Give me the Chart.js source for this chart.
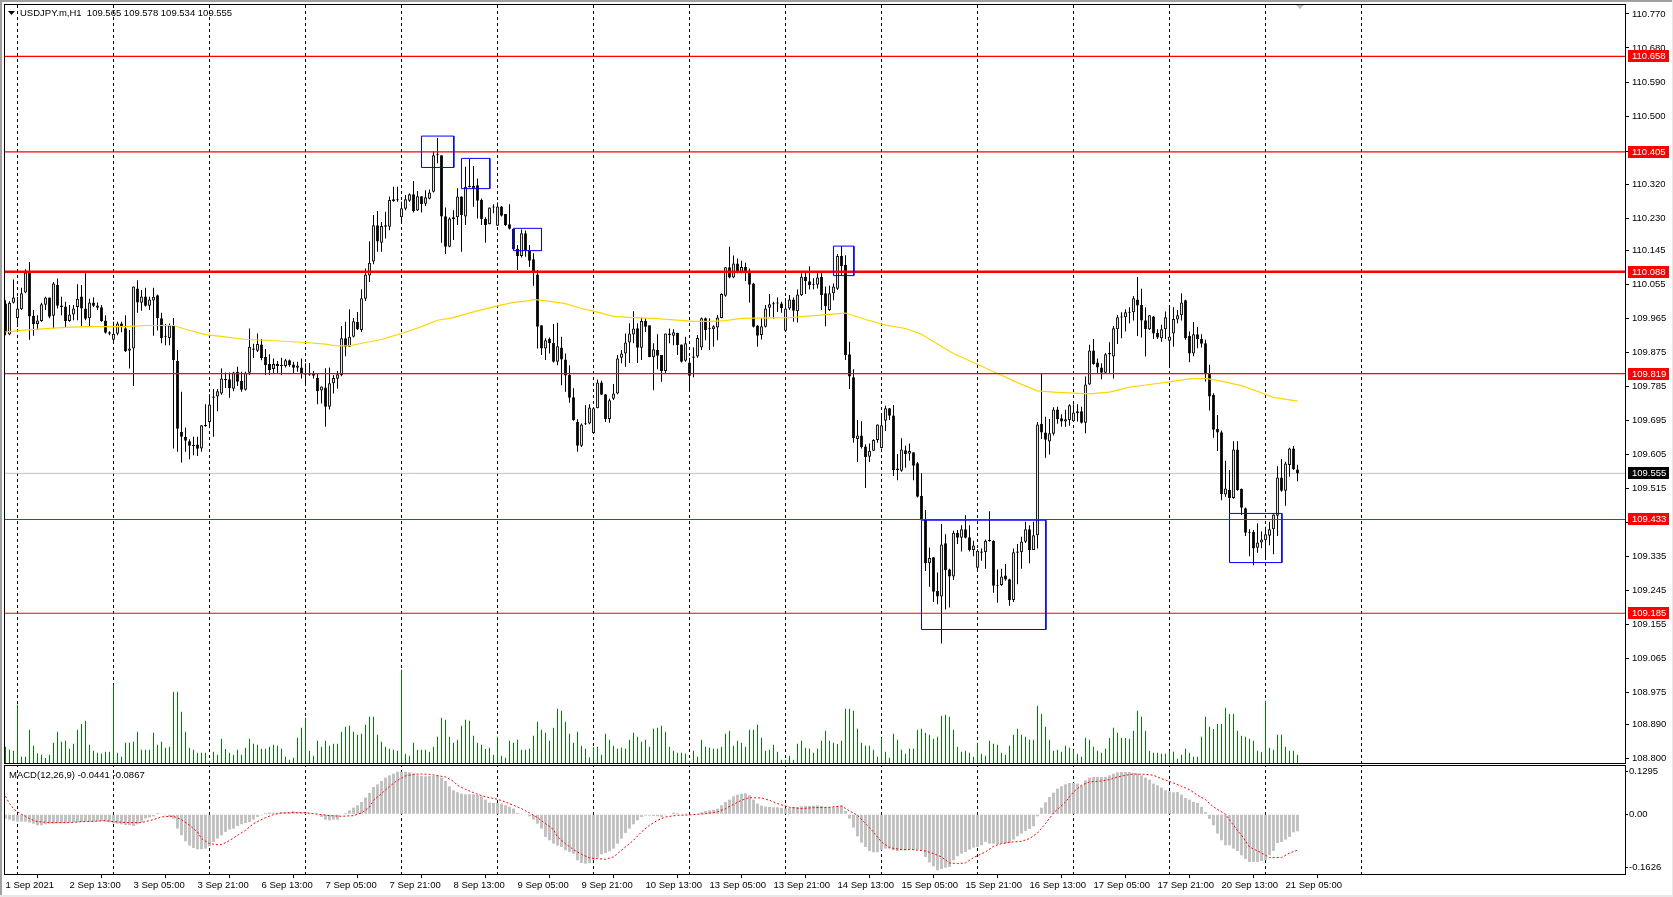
<!DOCTYPE html>
<html>
<head>
<meta charset="utf-8">
<title>USDJPY.m,H1</title>
<script src="https://cdn.jsdelivr.net/npm/chart.js@4"></script>
<style>
    html, body { margin: 0; padding: 0; background: #fff; overflow: hidden; }
    #page { position: relative; width: 1673px; height: 897px; }
    #page canvas { position: absolute; left: 0; }
    #mainChart { top: 0; }
    #macdChart { top: 765px; }
    #edgeTop { position: absolute; left: 0; top: 0; width: 1673px; height: 2px; background: #a0a0a0; }
    #edgeLeft { position: absolute; left: 0; top: 0; width: 2px; height: 897px; background: #a0a0a0; }
    #edgeRight { position: absolute; right: 0; top: 0; width: 1px; height: 897px; background: #e8e8e8; }
    #edgeBottom { position: absolute; left: 0; bottom: 0; width: 1673px; height: 2px; background: #e8e8e8; }
</style>
</head>
<body>
<div id="page">
    <canvas id="mainChart" width="1673" height="765"></canvas>
    <canvas id="macdChart" width="1673" height="132"></canvas>
    <div id="edgeTop"></div><div id="edgeLeft"></div><div id="edgeRight"></div><div id="edgeBottom"></div>
</div>
<script>
const opens = [
110.004,109.922,110.006,109.966,109.989,110.033,110.088,109.972,109.950,109.958,
110.001,110.020,109.972,110.054,109.999,109.996,109.958,109.975,109.995,110.023,
109.991,109.965,110.007,109.999,109.994,109.959,109.928,109.908,109.924,109.951,
109.939,109.879,109.885,110.044,110.006,110.023,109.998,110.012,110.026,109.965,
109.919,109.913,109.946,109.852,109.665,109.652,109.640,109.629,109.631,109.621,
109.680,109.691,109.758,109.758,109.766,109.804,109.804,109.779,109.824,109.799,
109.776,109.821,109.885,109.879,109.896,109.863,109.844,109.831,109.844,109.841,
109.839,109.854,109.843,109.834,109.835,109.817,109.816,109.821,109.807,109.774,
109.782,109.731,109.793,109.805,109.815,109.912,109.890,109.916,109.955,109.934,
110.017,110.078,110.115,110.211,110.165,110.211,110.207,110.280,110.280,110.232,
110.255,110.276,110.293,110.250,110.288,110.268,110.281,110.300,110.399,110.396,
110.235,110.154,110.232,110.232,110.287,110.234,110.315,110.309,110.317,110.278,
110.228,110.214,110.260,110.210,110.261,110.241,110.214,110.202,110.149,110.130,
110.190,110.144,110.121,110.081,109.947,109.885,109.910,109.900,109.850,109.888,
109.856,109.815,109.756,109.691,109.628,109.685,109.687,109.662,109.727,109.795,
109.764,109.699,109.752,109.766,109.861,109.872,109.901,109.922,109.939,109.887,
109.958,109.947,109.862,109.881,109.868,109.826,109.925,109.919,109.926,109.896,
109.853,109.848,109.864,109.864,109.888,109.965,109.938,109.936,109.941,109.966,
110.025,110.100,110.073,110.110,110.085,110.101,110.091,110.057,109.946,109.921,
109.943,109.993,110.004,110.006,110.004,109.932,109.991,110.015,109.984,110.026,
110.075,110.063,110.056,110.054,110.075,110.031,109.987,110.031,110.043,110.130,
110.106,109.870,109.809,109.646,109.655,109.626,109.599,109.615,109.643,109.622,
109.694,109.727,109.708,109.568,109.562,109.616,109.607,109.611,109.582,109.496,
109.435,109.317,109.333,109.244,109.229,109.370,109.301,109.282,109.398,109.385,
109.407,109.386,109.352,109.305,109.345,109.346,109.376,109.377,109.258,109.260,
109.285,109.275,109.220,109.348,109.346,109.374,109.407,109.352,109.391,109.686,
109.663,109.639,109.660,109.724,109.701,109.692,109.696,109.693,109.714,109.719,
109.689,109.790,109.880,109.848,109.835,109.821,109.873,109.864,109.936,109.967,
109.968,109.980,109.981,110.015,110.000,109.960,109.936,109.970,109.926,109.912,
109.936,109.906,109.925,109.962,109.973,110.013,109.918,109.872,109.923,109.910,
109.899,109.820,109.762,109.672,109.664,109.499,109.511,109.490,109.618,109.514,
109.463,109.398,109.400,109.358,109.372,109.378,109.390,109.407,109.443,109.544,
109.509,109.577,109.621,109.565];

const highs = [
110.013,110.010,110.068,110.022,110.046,110.095,110.114,109.987,109.973,110.006,
110.022,110.020,110.061,110.070,110.022,110.009,110.000,110.000,110.055,110.053,
110.084,110.017,110.020,110.007,110.000,109.973,109.931,109.956,109.956,109.956,
109.973,109.934,110.049,110.066,110.040,110.046,110.022,110.046,110.028,109.980,
109.950,109.951,109.966,109.881,109.771,109.676,109.645,109.652,109.652,109.682,
109.738,109.764,109.778,109.778,109.832,109.822,109.822,109.824,109.837,109.824,
109.824,109.938,109.898,109.925,109.910,109.884,109.870,109.859,109.852,109.861,
109.858,109.856,109.850,109.850,109.859,109.846,109.847,109.826,109.819,109.785,
109.833,109.835,109.815,109.826,109.945,109.956,109.989,109.966,109.982,110.042,
110.097,110.169,110.238,110.249,110.220,110.247,110.287,110.313,110.313,110.273,
110.291,110.295,110.328,110.302,110.288,110.304,110.306,110.406,110.442,110.396,
110.258,110.232,110.251,110.309,110.288,110.366,110.388,110.368,110.335,110.282,
110.232,110.258,110.267,110.271,110.262,110.241,110.267,110.202,110.159,110.200,
110.197,110.159,110.137,110.093,109.947,109.912,109.914,109.950,109.953,109.916,
109.872,109.841,109.780,109.698,109.687,109.736,109.738,109.727,109.803,109.800,
109.764,109.753,109.791,109.868,109.881,109.925,109.952,109.984,109.952,109.967,
109.965,109.947,109.899,109.923,109.868,109.925,109.938,109.936,109.927,109.896,
109.916,109.861,109.888,109.921,109.967,109.967,109.965,109.947,109.974,110.031,
110.101,110.154,110.131,110.123,110.117,110.112,110.097,110.059,109.947,109.965,
110.000,110.029,110.009,110.020,110.009,110.018,110.027,110.020,110.041,110.084,
110.086,110.103,110.071,110.084,110.088,110.049,110.051,110.057,110.135,110.156,
110.132,109.903,109.830,109.696,109.693,109.632,109.634,109.645,109.684,109.709,
109.734,109.728,109.736,109.606,109.648,109.628,109.634,109.611,109.585,109.555,
109.458,109.359,109.333,109.293,109.421,109.394,109.303,109.403,109.405,109.418,
109.444,109.418,109.377,109.354,109.356,109.380,109.455,109.378,109.301,109.303,
109.315,109.276,109.356,109.368,109.387,109.427,109.418,109.427,109.691,109.820,
109.705,109.699,109.730,109.731,109.711,109.723,109.738,109.738,109.738,109.731,
109.811,109.895,109.910,109.859,109.846,109.873,109.902,109.945,109.974,109.981,
109.989,109.994,110.024,110.074,110.043,109.994,109.973,109.971,109.936,109.948,
109.983,110.000,109.994,109.987,110.031,110.014,109.930,109.955,109.943,109.923,
109.908,109.842,109.767,109.709,109.668,109.588,109.564,109.640,109.640,109.515,
109.465,109.407,109.405,109.423,109.401,109.414,109.427,109.447,109.574,109.593,
109.586,109.623,109.627,109.578];

const lows = [
109.920,109.920,110.004,109.942,109.987,110.031,109.908,109.919,109.934,109.956,
109.987,109.965,109.938,109.991,109.973,109.941,109.956,109.960,109.960,109.945,
109.960,109.942,109.995,109.987,109.956,109.925,109.920,109.901,109.920,109.928,
109.876,109.832,109.786,109.980,109.985,109.996,109.987,109.919,109.933,109.899,
109.894,109.894,109.621,109.612,109.584,109.612,109.592,109.603,109.601,109.612,
109.678,109.674,109.652,109.719,109.763,109.781,109.755,109.772,109.786,109.771,
109.774,109.815,109.860,109.876,109.854,109.815,109.815,109.819,109.819,109.815,
109.835,109.837,109.819,109.824,109.806,109.793,109.813,109.806,109.738,109.740,
109.678,109.724,109.766,109.779,109.812,109.865,109.890,109.914,109.934,109.929,
110.011,110.061,110.108,110.141,110.141,110.176,110.198,110.273,110.273,110.218,
110.251,110.273,110.245,110.249,110.245,110.262,110.280,110.298,110.375,110.165,
110.135,110.153,110.172,110.212,110.141,110.212,110.311,110.260,110.229,110.212,
110.165,110.214,110.243,110.210,110.234,110.209,110.200,110.145,110.093,110.126,
110.128,110.101,110.051,109.885,109.868,109.855,109.872,109.848,109.841,109.788,
109.771,109.742,109.694,109.612,109.625,109.683,109.685,109.662,109.727,109.762,
109.691,109.689,109.749,109.764,109.846,109.837,109.847,109.899,109.847,109.855,
109.929,109.862,109.775,109.830,109.797,109.819,109.899,109.894,109.868,109.848,
109.850,109.772,109.809,109.861,109.881,109.907,109.881,109.890,109.907,109.965,
110.022,110.071,110.071,110.084,110.084,110.064,110.007,109.941,109.890,109.909,
109.941,109.969,109.964,109.982,109.980,109.932,109.987,109.956,109.954,110.024,
110.029,110.041,110.042,110.044,109.987,109.944,109.985,110.013,110.040,110.079,
109.855,109.778,109.636,109.585,109.621,109.516,109.585,109.615,109.636,109.621,
109.667,109.696,109.548,109.537,109.559,109.570,109.588,109.537,109.491,109.431,
109.297,109.255,109.215,109.209,109.105,109.195,109.200,109.273,109.368,109.348,
109.383,109.348,109.336,109.299,109.324,109.303,109.374,109.239,109.213,109.258,
109.271,109.205,109.215,109.262,109.303,109.371,109.317,109.352,109.356,109.646,
109.596,109.605,109.655,109.686,109.678,109.678,109.681,109.691,109.692,109.687,
109.661,109.789,109.842,109.820,109.804,109.820,109.820,109.806,109.897,109.912,
109.930,109.952,109.959,109.918,109.914,109.864,109.934,109.910,109.910,109.903,
109.910,109.837,109.890,109.952,109.959,109.908,109.849,109.865,109.886,109.888,
109.798,109.721,109.649,109.614,109.484,109.493,109.449,109.488,109.509,109.445,
109.389,109.336,109.312,109.345,109.357,109.330,109.365,109.341,109.389,109.506,
109.469,109.546,109.564,109.534];

const closes = [
109.929,110.006,110.020,109.991,110.031,110.086,109.970,109.950,109.959,110.002,
110.020,109.969,110.057,109.998,109.995,109.957,109.975,109.991,110.017,109.991,
109.964,110.007,109.998,109.993,109.957,109.927,109.924,109.924,109.951,109.942,
109.878,109.885,110.049,110.007,110.023,109.998,110.015,110.022,109.965,109.913,
109.916,109.946,109.855,109.673,109.652,109.641,109.628,109.627,109.620,109.682,
109.682,109.737,109.755,109.772,109.806,109.802,109.781,109.822,109.797,109.776,
109.821,109.890,109.882,109.897,109.860,109.841,109.828,109.844,109.839,109.839,
109.854,109.841,109.834,109.840,109.819,109.816,109.821,109.813,109.772,109.785,
109.731,109.793,109.807,109.817,109.912,109.890,109.916,109.957,109.936,110.018,
110.081,110.112,110.211,110.168,110.209,110.207,110.278,110.275,110.277,110.256,
110.280,110.293,110.249,110.288,110.267,110.285,110.298,110.396,110.396,110.234,
110.154,110.229,110.228,110.287,110.238,110.313,110.312,110.315,110.276,110.227,
110.212,110.258,110.258,110.261,110.236,110.212,110.202,110.147,110.130,110.190,
110.144,110.117,110.084,109.943,109.885,109.907,109.899,109.850,109.891,109.856,
109.814,109.755,109.696,109.628,109.684,109.687,109.729,109.727,109.795,109.763,
109.699,109.748,109.766,109.859,109.872,109.901,109.925,109.938,109.887,109.958,
109.943,109.863,109.883,109.866,109.826,109.925,109.921,109.928,109.894,109.850,
109.899,109.813,109.861,109.913,109.965,109.934,109.936,109.944,109.967,110.029,
110.100,110.073,110.110,110.086,110.101,110.088,110.054,109.943,109.919,109.944,
109.991,110.002,110.002,110.004,109.992,109.991,110.015,109.985,110.028,110.075,
110.064,110.053,110.054,110.073,110.027,109.997,110.031,110.049,110.130,110.103,
109.868,109.811,109.648,109.655,109.625,109.598,109.615,109.643,109.684,109.682,
109.727,109.707,109.564,109.564,109.618,109.606,109.614,109.575,109.493,109.431,
109.317,109.332,109.242,109.229,109.367,109.299,109.282,109.398,109.385,109.407,
109.385,109.352,109.364,109.350,109.348,109.377,109.377,109.258,109.260,109.282,
109.274,109.220,109.346,109.345,109.375,109.407,109.352,109.391,109.684,109.663,
109.644,109.661,109.724,109.698,109.692,109.698,109.735,109.716,109.719,109.689,
109.790,109.880,109.844,109.835,109.821,109.870,109.869,109.939,109.968,109.969,
109.981,109.982,110.018,109.999,109.959,109.937,109.973,109.925,109.914,109.936,
109.968,109.917,109.963,109.973,110.007,109.913,109.872,109.923,109.910,109.898,
109.820,109.758,109.670,109.663,109.500,109.515,109.490,109.618,109.511,109.464,
109.398,109.400,109.356,109.372,109.380,109.394,109.407,109.446,109.544,109.509,
109.581,109.621,109.566,109.555];

const volumes = [
173,143,133,593,73,73,343,183,107,93,
60,93,213,323,223,233,153,203,343,400,
433,193,133,113,103,123,123,793,113,73,
213,213,223,323,143,143,143,313,193,223,
163,173,723,723,523,323,163,143,113,113,
113,33,123,93,253,150,113,93,143,93,
163,253,203,193,153,153,173,193,183,153,
73,43,63,263,363,463,133,83,233,173,
233,183,203,203,323,373,383,323,293,303,
393,473,473,293,223,173,153,143,133,943,
103,83,213,143,143,143,123,173,273,463,
443,273,213,243,383,443,433,283,213,193,
150,163,93,273,83,63,233,213,243,143,
143,153,283,423,343,313,233,363,553,533,
423,303,213,323,183,153,67,167,173,93,
303,243,183,153,163,153,243,313,273,223,
243,173,353,363,383,323,173,133,113,113,
103,33,133,73,243,173,163,153,153,173,
303,333,183,233,213,173,343,343,393,263,
133,143,193,123,43,43,83,43,203,233,
163,153,113,153,233,333,233,213,200,233,
553,553,533,353,213,183,183,143,73,263,
123,63,303,243,143,103,153,153,343,353,
313,293,253,273,483,493,473,343,173,123,
133,113,73,213,103,83,233,203,193,113,
93,183,293,353,293,273,243,243,583,500,
373,243,133,143,123,183,163,143,103,73,
263,243,173,133,113,153,260,363,313,263,
260,253,333,533,473,333,133,113,113,103,
103,133,123,53,93,153,113,73,73,273,
473,373,350,400,400,563,500,500,333,283,
273,253,233,133,117,633,163,143,293,293,
173,133,133,93];

const macdHist = [
-.0132,-.0163,-.0203,-.0224,-.0224,-.0224,-.0254,-.0285,-.0335,-.0335,
-.0305,-.0285,-.0285,-.0274,-.0274,-.0274,-.0254,-.0244,-.0244,-.0234,
-.0224,-.0224,-.0224,-.0213,-.0213,-.0224,-.0244,-.0274,-.0285,-.0305,
-.0325,-.0335,-.0356,-.0305,-.0234,-.0132,-.0102,-.0061,.0041,.0020,
-.0030,-.0081,-.0132,-.0437,-.0640,-.0823,-.0955,-.1026,-.1067,-.1067,
-.1046,-.0975,-.0843,-.0742,-.0640,-.0538,-.0467,-.0437,-.0356,-.0305,
-.0264,-.0234,-.0163,-.0081,-.0030,.0041,.0051,.0051,.0051,.0061,
.0061,.0071,.0091,.0071,.0061,.0041,.0030,0,-.0030,-.0081,
-.0163,-.0183,-.0163,-.0163,-.0020,.0041,.0122,.0203,.0274,.0376,
.0508,.0650,.0833,.0914,.1016,.1118,.1189,.1240,.1300,.1300,
.1300,.1280,.1240,.1189,.1168,.1158,.1168,.1168,.1189,.1118,
.1016,.0853,.0732,.0671,.0630,.0610,.0610,.0610,.0589,.0549,
.0447,.0356,.0345,.0345,.0325,.0274,.0224,.0173,.0041,.0005,
-.0020,-.0061,-.0163,-.0285,-.0437,-.0691,-.0792,-.0894,-.0955,-.0996,
-.1097,-.1148,-.1199,-.1402,-.1483,-.1504,-.1483,-.1402,-.1321,-.1219,
-.1179,-.1128,-.1046,-.0894,-.0742,-.0569,-.0437,-.0305,-.0183,-.0081,
-.0041,-.0041,-.0051,-.0061,-.0081,-.0030,.0020,.0051,.0041,.0010,
.0030,-.0005,-.0020,.0020,.0061,.0102,.0122,.0142,.0173,.0274,
.0376,.0447,.0549,.0599,.0630,.0640,.0579,.0447,.0325,.0264,
.0234,.0224,.0213,.0213,.0193,.0173,.0193,.0224,.0224,.0244,
.0254,.0254,.0264,.0274,.0254,.0224,.0224,.0213,.0244,.0264,
.0102,-.0132,-.0406,-.0671,-.0864,-.0996,-.1118,-.1158,-.1158,-.1097,
-.1046,-.1046,-.1097,-.1118,-.1097,-.1097,-.1077,-.1077,-.1077,-.1097,
-.1300,-.1463,-.1585,-.1707,-.1666,-.1626,-.1605,-.1402,-.1280,-.1199,
-.1148,-.1077,-.1016,-.0996,-.0945,-.0843,-.0894,-.0894,-.0914,-.0894,
-.0894,-.0874,-.0772,-.0671,-.0589,-.0508,-.0447,-.0366,-.0061,.0203,
.0366,.0528,.0660,.0782,.0853,.0914,.0955,.0955,.0935,.0884,
.1036,.1118,.1138,.1138,.1138,.1138,.1189,.1240,.1280,.1290,
.1290,.1290,.1260,.1240,.1189,.1118,.1057,.0935,.0884,.0813,
.0732,.0701,.0671,.0681,.0599,.0498,.0447,.0376,.0345,.0224,
.0071,-.0142,-.0335,-.0589,-.0792,-.0945,-.0945,-.1046,-.1118,-.1250,
-.1361,-.1453,-.1453,-.1453,-.1422,-.1402,-.1250,-.1118,-.0874,-.0843,
-.0772,-.0691,-.0549,-.0518];

// signal line, read at these bars
const signalBars = [0,1,2,3,4,5,6,7,8,9,11,16,19,22,25,27,30,34,37,39,41,42,44,46,48,49,51,53,54,56,58,60,62,65,67,69,72,75,77,79,81,84,87,89,91,92,94,96,98,100,102,104,106,108,110,112,113,115,117,119,121,123,125,127,129,131,133,135,137,138,140,142,144,146,148,
150,152,154,157,159,161,163,165,168,171,175,178,180,182,184,186,189,191,193,196,199,202,206,209,211,213,215,217,219,221,224,227,230,232,234,236,238,240,242,245,247,249,251,254,256,258,260,262,265,267,269,271,274,276,278,280,282,285,287,289,292,294,296,298,300,302,305,307,309,311,314,316,319,321,323];
const signalValues = [.0549,.0325,.0173,.0071,0,-.0061,-.0132,-.0183,-.0224,-.0234,-.0254,-.0254,-.0224,-.0213,-.0193,-.0224,-.0254,-.0254,-.0163,-.0081,-.0061,-.0061,-.0163,-.0335,-.0538,-.0742,-.0894,-.0925,-.0925,-.0803,-.0640,-.0488,-.0285,-.0102,-.0010,.0041,.0051,.0051,.0020,-.0010,-.0041,-.0061,-.0041,.0041,.0224,.0427,.0630,.0853,.1036,.1168,.1219,.1229,.1219,.1179,.1138,.1006,.0884,.0762,.0660,.0569,.0508,.0457,.0376,.0274,.0173,.0041,-.0102,-.0285,-.0467,-.0691,-.0894,-.1077,-.1219,-.1331,-.1351,
-.1372,-.1300,-.1097,-.0792,-.0538,-.0335,-.0183,-.0081,-.0030,-.0020,.0020,.0071,.0173,.0305,.0427,.0508,.0498,.0427,.0325,.0213,.0173,.0203,.0213,.0254,.0102,-.0030,-.0285,-.0538,-.0843,-.1016,-.1077,-.1077,-.1118,-.1199,-.1300,-.1483,-.1504,-.1483,-.1321,-.1148,-.0975,-.0894,-.0853,-.0823,-.0742,-.0569,-.0285,.0041,.0376,.0681,.0884,.0986,.1016,.1057,.1138,.1189,.1229,.1219,.1189,.1087,.0955,.0853,.0752,.0579,.0447,.0224,0,-.0335,-.0640,-.0996,-.1179,-.1321,-.1321,-.1179,-.1097];

// yellow moving average, read at these bars
const maBars = [0,5,10,15,20,30,35,42,45,50,55,60,65,75,80,82,86,90,94,99,104,108,112,117,123,127,131,132,135,140,144,147,152,157,162,168,172,176,180,184,191,196,209,210,215,220,225,229,233,237,242,248,253,258,263,267,271,276,281,286,291,296,300,304,309,314,317,323];
const maValues = [109.929,109.934,109.938,109.941,109.943,109.943,109.946,109.946,109.936,109.922,109.916,109.909,109.907,109.901,109.897,109.893,109.892,109.901,109.909,109.925,109.943,109.960,109.967,109.982,109.998,110.007,110.012,110.015,110.011,110.004,109.991,109.984,109.970,109.967,109.965,109.960,109.957,109.957,109.959,109.965,109.966,109.967,109.978,109.979,109.962,109.947,109.938,109.923,109.897,109.872,109.848,109.819,109.795,109.773,109.769,109.767,109.765,109.770,109.783,109.790,109.797,109.805,109.806,109.799,109.787,109.768,109.756,109.746];

const redLevels = [110.658, 110.405, 110.088, 109.819, 109.433, 109.185];
const lastPrice = 109.555;

// blue rectangles: first bar, last bar, top price, bottom price
const boxFrom = [104, 114, 127, 207, 229, 306];
const boxTo = [112.08, 121.08, 134, 212.1, 260.1, 319.1];
const boxTop = [110.447, 110.388, 110.203, 110.156, 109.431, 109.449];
const boxBottom = [110.364, 110.308, 110.144, 110.078, 109.142, 109.319];

const separatorBars = [3,27,51,75,99,123,147,171,195,219,243,267,291,315,339];

const priceTicks = [110.770,110.680,110.590,110.500,110.405,110.320,110.230,110.145,110.055,109.965,109.875,109.785,109.695,109.605,109.515,109.425,109.335,109.245,109.155,109.065,108.975,108.890,108.800];
const macdTicks = [0.1295, 0, -0.1626];
const timeBars = [0,16,32,48,64,80,96,112,128,144,160,176,192,208,224,240,256,272,288,304,320];
const timeLabels = ['1 Sep 2021','2 Sep 13:00','3 Sep 05:00','3 Sep 21:00','6 Sep 13:00','7 Sep 05:00','7 Sep 21:00','8 Sep 13:00','9 Sep 05:00','9 Sep 21:00','10 Sep 13:00','13 Sep 05:00','13 Sep 21:00','14 Sep 13:00','15 Sep 05:00','15 Sep 21:00','16 Sep 13:00','17 Sep 05:00','17 Sep 21:00','20 Sep 13:00','21 Sep 05:00'];

const chartTitle = 'USDJPY.m,H1  109.565 109.578 109.534 109.555';
const macdTitle = 'MACD(12,26,9) -0.0441 -0.0867';

const FONT = { family: '"Liberation Sans", Arial, sans-serif', size: 9.5 };
const FONT_CSS = '9.5px "Liberation Sans", Arial, sans-serif';

// bar 0 sits on pixel 5.5, one bar every 4 pixels
const X_MIN = -0.375;
const X_MAX = 405.125;
const PRICE_MAX = 110.7963;
const PRICE_MIN = 108.7863;
const VOLUME_MAX = 7600;
const MACD_MAX = 0.1503;
const MACD_MIN = -0.1851;

function separatorDataset(yMin, yMax, yAxisID) {
    const points = [];
    separatorBars.forEach(bar => {
        points.push({ x: bar, y: yMin }, { x: bar, y: yMax }, { x: bar, y: null });
    });
    return {
        type: 'line', data: points, yAxisID, order: 20,
        borderColor: '#000', borderWidth: 1, borderDash: [3, 3],
        pointRadius: 0, spanGaps: false
    };
}

function levelDataset(value, color, width, order) {
    return {
        type: 'line', yAxisID: 'y', order,
        data: [{ x: X_MIN, y: value }, { x: X_MAX, y: value }],
        borderColor: color, borderWidth: width, pointRadius: 0
    };
}

function boxDataset(i) {
    return {
        type: 'line', yAxisID: 'y', order: 2,
        data: [
            { x: boxFrom[i], y: boxTop[i] }, { x: boxTo[i], y: boxTop[i] },
            { x: boxTo[i], y: boxBottom[i] }, { x: boxFrom[i], y: boxBottom[i] },
            { x: boxFrom[i], y: boxTop[i] }
        ],
        borderColor: '#0000ff', borderWidth: 1, pointRadius: 0
    };
}

// stop the tick labels from pushing the plot area in
function noLabelPadding(axis) {
    axis.paddingTop = 0;
    axis.paddingBottom = 0;
    axis.paddingLeft = 0;
    axis.paddingRight = 0;
}

const framePlugin = {
    id: 'frame',
    afterDraw(chart) {
        const a = chart.chartArea;
        const ctx = chart.ctx;
        ctx.save();
        ctx.strokeStyle = '#000';
        ctx.lineWidth = 1;
        ctx.strokeRect(a.left + 0.5, a.top + 0.5, a.right - a.left - 1, a.bottom - a.top - 1);
        ctx.restore();
    }
};

// price tags on the right axis and the heading text
const mainLabelsPlugin = {
    id: 'mainLabels',
    afterDraw(chart) {
        const ctx = chart.ctx;
        const y = chart.scales.y;
        ctx.save();
        ctx.font = FONT_CSS;
        ctx.textBaseline = 'middle';
        const tag = (value, bg) => {
            const py = Math.round(y.getPixelForValue(value));
            ctx.fillStyle = bg;
            ctx.fillRect(1628, py - 6, 41, 12);
            ctx.fillStyle = '#fff';
            ctx.fillText(value.toFixed(3), 1632, py + 0.5);
        };
        redLevels.forEach(v => tag(v, '#ff0000'));
        tag(lastPrice, '#000');

        ctx.fillStyle = '#000';
        ctx.fillText(chartTitle, 20, 13);
        ctx.beginPath();
        ctx.moveTo(8, 11);
        ctx.lineTo(15, 11);
        ctx.lineTo(11.5, 15);
        ctx.closePath();
        ctx.fill();

        ctx.fillStyle = '#c0c0c0';
        ctx.beginPath();
        ctx.moveTo(1296, 5);
        ctx.lineTo(1304, 5);
        ctx.lineTo(1300, 9);
        ctx.closePath();
        ctx.fill();
        ctx.restore();
    }
};

const macdLabelPlugin = {
    id: 'macdLabel',
    afterDraw(chart) {
        const ctx = chart.ctx;
        ctx.save();
        ctx.font = FONT_CSS;
        ctx.textBaseline = 'middle';
        ctx.fillStyle = '#000';
        ctx.fillText(macdTitle, 9, 10);
        ctx.restore();
    }
};

const bars = opens.map((_, i) => i);

new Chart(document.getElementById('mainChart'), {
    data: {
        datasets: [
            separatorDataset(PRICE_MIN, PRICE_MAX, 'y'),
            levelDataset(lastPrice, '#c0c0c0', 1, 15),
            {
                type: 'bar', yAxisID: 'yVolume', order: 12, grouped: false,
                data: bars.map(i => ({ x: i, y: volumes[i] })),
                backgroundColor: '#008000', maxBarThickness: 1
            },
            {
                type: 'bar', yAxisID: 'y', order: 10, grouped: false,
                data: bars.map(i => ({ x: i, y: [lows[i], highs[i]] })),
                backgroundColor: '#000', maxBarThickness: 1
            },
            {
                type: 'bar', yAxisID: 'y', order: 9, grouped: false,
                data: bars.map(i => ({ x: i, y: [opens[i], closes[i]] })),
                backgroundColor: bars.map(i => closes[i] >= opens[i] ? '#fff' : '#000'),
                borderColor: '#000', borderWidth: 1, borderSkipped: false,
                maxBarThickness: 3, minBarLength: 1
            },
            {
                type: 'line', yAxisID: 'y', order: 6,
                data: maBars.map((b, i) => ({ x: b, y: maValues[i] })),
                borderColor: '#ffd700', borderWidth: 1.2, pointRadius: 0
            },
            ...redLevels.map(v => levelDataset(v, '#ff0000', v === 110.088 ? 2.4 : 1.2, 4)),
            ...boxFrom.map((_, i) => boxDataset(i))
        ]
    },
    options: {
        responsive: false,
        animation: false,
        devicePixelRatio: 1,
        layout: { padding: { left: 4, top: 4, right: 0, bottom: 1 } },
        plugins: { legend: { display: false }, tooltip: { enabled: false } },
        scales: {
            x: { type: 'linear', offset: false, min: X_MIN, max: X_MAX, display: false },
            yVolume: { type: 'linear', min: 0, max: VOLUME_MAX, display: false },
            y: {
                type: 'linear', position: 'right', min: PRICE_MIN, max: PRICE_MAX,
                afterBuildTicks: axis => { axis.ticks = priceTicks.map(value => ({ value })); },
                afterFit: axis => { axis.width = 47; noLabelPadding(axis); },
                border: { display: false },
                grid: { drawOnChartArea: false, drawTicks: true, tickLength: 3, color: '#000' },
                ticks: {
                    autoSkip: false, color: '#000', font: FONT, padding: 3,
                    callback: v => v.toFixed(3)
                }
            }
        }
    },
    plugins: [framePlugin, mainLabelsPlugin]
});

new Chart(document.getElementById('macdChart'), {
    data: {
        datasets: [
            separatorDataset(MACD_MIN, MACD_MAX, 'y'),
            {
                type: 'bar', yAxisID: 'y', order: 10, grouped: false,
                data: bars.map(i => ({ x: i, y: macdHist[i] })),
                backgroundColor: '#c0c0c0', maxBarThickness: 3
            },
            {
                type: 'line', yAxisID: 'y', order: 5,
                data: signalBars.map((b, i) => ({ x: b, y: signalValues[i] })),
                borderColor: '#ff0000', borderWidth: 1, borderDash: [2, 2], pointRadius: 0
            }
        ]
    },
    options: {
        responsive: false,
        animation: false,
        devicePixelRatio: 1,
        layout: { padding: { left: 4, top: 0, right: 0, bottom: 0 } },
        plugins: { legend: { display: false }, tooltip: { enabled: false } },
        scales: {
            x: {
                type: 'linear', offset: false, min: X_MIN, max: X_MAX,
                afterBuildTicks: axis => { axis.ticks = timeBars.map(value => ({ value })); },
                afterFit: axis => { axis.height = 22; noLabelPadding(axis); },
                border: { display: false },
                grid: { drawOnChartArea: false, drawTicks: true, tickLength: 3, color: '#000' },
                ticks: {
                    autoSkip: false, maxRotation: 0, align: 'start', color: '#000', font: FONT, padding: 2,
                    callback: v => timeLabels[timeBars.indexOf(v)]
                }
            },
            y: {
                type: 'linear', position: 'right', min: MACD_MIN, max: MACD_MAX,
                afterBuildTicks: axis => { axis.ticks = macdTicks.map(value => ({ value })); },
                afterFit: axis => { axis.width = 47; noLabelPadding(axis); },
                border: { display: false },
                grid: { drawOnChartArea: false, drawTicks: true, tickLength: 2, color: '#000' },
                ticks: {
                    autoSkip: false, color: '#000', font: FONT, padding: 1,
                    callback: v => v === 0 ? '0.00' : v.toFixed(4)
                }
            }
        }
    },
    plugins: [framePlugin, macdLabelPlugin]
});
</script>
</body>
</html>
